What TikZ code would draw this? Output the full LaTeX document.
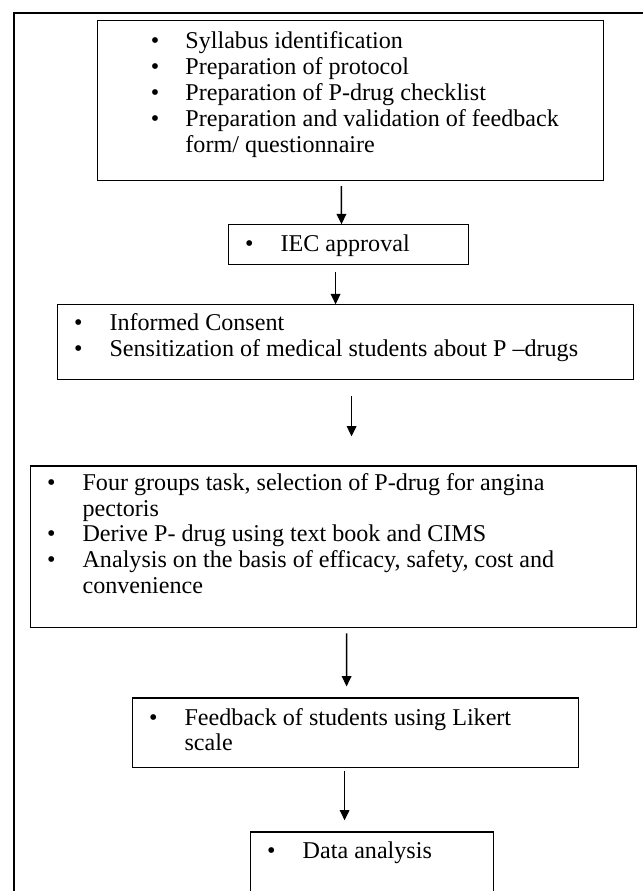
\documentclass[tikz,border=0pt]{standalone}
\usepackage{fontspec}
\setmainfont{Liberation Serif}
\usetikzlibrary{positioning,arrows.meta}

\newlength{\bulind}
\newlength{\textind}
\setlength{\bulind}{9pt}
\setlength{\textind}{28.3pt}
\newcommand{\bitem}[1]{\par\noindent\hangindent=\textind\hangafter=1%
  \makebox[\textind][l]{\hspace{\bulind}\textbullet}\strut#1}
\newcommand{\boxtext}[4]{\parbox[c][#2][t]{#1}{\fontsize{13.1pt}{14.1pt}\selectfont
  \raggedright\vspace*{#3}#4}}

\begin{document}
\begin{tikzpicture}[node distance=0.8cm]
	\tikzstyle{item}
	  =[draw, rectangle, inner sep=0pt, line width=0.6pt]
	\tikzstyle{arrow}
	  =[draw, line width=0.8pt, -{Triangle[length=5.6pt,width=5.2pt]}]

	\useasboundingbox (0,0) rectangle (349.5pt,-484.3pt);
	\draw[line width=0.9pt] (7.6pt,-490pt) -- (7.6pt,-7.1pt) -- (355pt,-7.1pt);

	\node[item, anchor=north west] (syllabus)
	  at (52.7pt,-10.9pt) {\setlength{\bulind}{29pt}\setlength{\textind}{47.8pt}%
	  \boxtext{275pt}{87pt}{5.4pt}{%
	  \bitem{Syllabus identification}
	  \bitem{Preparation of protocol}
	  \bitem{Preparation of P-drug checklist}
	  \bitem{Preparation and validation of feedback\newline form/ questionnaire}}};
	\node[item] (iec)
	  [below=23.4pt of syllabus, xshift=-1.1pt] {\boxtext{130.4pt}{21.7pt}{4.8pt}{%
	  \bitem{IEC approval}}};
	\node[item] (consent)
	  [below=21.2pt of iec, xshift=-1.6pt] {\boxtext{313.1pt}{40.8pt}{4.3pt}{%
	  \bitem{Informed Consent}
	  \bitem{Sensitization of medical students about P \textendash drugs}}};
	\node[item] (task)
	  [below=46.2pt of consent, xshift=-6.5pt] {\boxtext{329.4pt}{88pt}{3.2pt}{%
	  \bitem{Four groups task, selection of P-drug for angina\newline pectoris}
	  \bitem{Derive P- drug using text book and CIMS}
	  \bitem{Analysis on the basis of efficacy, safety, cost and\newline convenience}}};
	\node[item] (feedback)
	  [below=37.5pt of task, xshift=11.9pt] {\boxtext{242.4pt}{38pt}{4.8pt}{%
	  \bitem{Feedback of students using Likert\newline scale}}};
	\node[item] (analysis)
	  [below=34.2pt of feedback, xshift=9.1pt] {\boxtext{132.1pt}{40pt}{4.6pt}{%
	  \bitem{Data analysis}}};

	\draw[arrow] ([xshift=-4.9pt,yshift=-2.7pt]syllabus.south) -- ([xshift=-3.8pt]iec.north);
	\draw[arrow] ([xshift=-7pt,yshift=-3.8pt]iec.south) -- ([xshift=-5.4pt]consent.north);
	\draw[arrow] ([xshift=3.3pt,yshift=-8.7pt]consent.south) -- ([xshift=9.8pt,yshift=15.8pt]task.north);
	\draw[arrow] ([xshift=7.1pt,yshift=-2.7pt]task.south) -- ([xshift=-4.8pt,yshift=6pt]feedback.north);
	\draw[arrow] ([xshift=-5.9pt,yshift=-1.1pt]feedback.south) -- ([xshift=-15pt,yshift=6pt]analysis.north);
\end{tikzpicture}
\end{document}
